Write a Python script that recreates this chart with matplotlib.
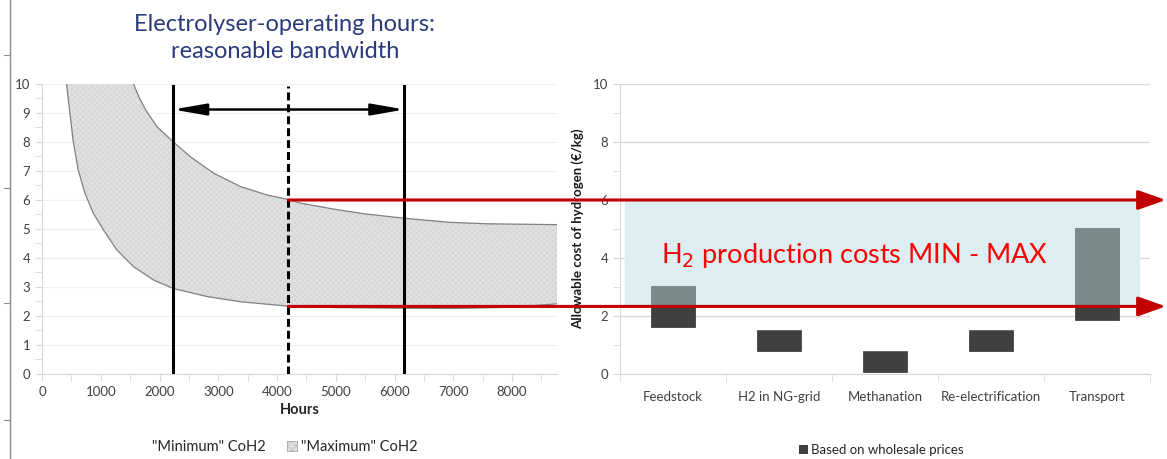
import numpy as np
import matplotlib
matplotlib.use('Agg')
import matplotlib.pyplot as plt
import matplotlib.transforms as mtransforms
from matplotlib.patches import Patch, ConnectionPatch
from matplotlib.lines import Line2D

# operating hours vs. cost of hydrogen (€/kg)
hours_min = [418, 475, 532, 617, 731, 874, 1045, 1273, 1558, 1900, 2230, 2811, 3381, 4190,
             5000, 6000, 7000, 8000, 8760]
cost_min = [10.0, 8.99, 8.01, 7.03, 6.23, 5.54, 4.97, 4.28, 3.70, 3.24, 2.95, 2.67, 2.49, 2.34,
            2.29, 2.27, 2.26, 2.30, 2.42]
hours_max = [1558, 1650, 1760, 1956, 2230, 2526, 2925, 3381, 3837, 4190, 4407, 4953, 5500, 6170,
             6945, 7574, 8760]
cost_max = [10.0, 9.55, 9.12, 8.53, 8.01, 7.49, 6.92, 6.46, 6.17, 6.02, 5.89, 5.69, 5.52, 5.37,
            5.23, 5.18, 5.15]

band_hours = [2230, 4190, 6170]   # low / reference / high operating hours
min_cost = 2.33
max_cost = 6.0

# allowable cost per application
categories = ['Feedstock', 'H2 in NG-grid', 'Methanation', 'Re-electrification', 'Transport']
wholesale_low = [1.62, 0.80, 0.07, 0.80, 1.86]
wholesale_high = [2.33, 1.52, 0.79, 1.52, 2.33]
upper_top = [3.05, 0.0, 0.0, 0.0, 5.03]

plt.rcParams['font.family'] = 'Lato'
plt.rcParams['hatch.linewidth'] = 0.3

fig = plt.figure(figsize=(11.67, 4.59), dpi=100)
ax1 = fig.add_axes([0.0360, 0.1852, 0.4410, 0.6318])
ax2 = fig.add_axes([0.5313, 0.1852, 0.4542, 0.6318])

grid_c = '#d9d9d9'
tick_c = '#404040'
fill_c = '#e0e0e0'

# ---- left: cost band over operating hours
poly_x = hours_min + hours_max[::-1]
poly_y = cost_min + cost_max[::-1]
ax1.fill(poly_x, poly_y, facecolor=fill_c, edgecolor='#cdcdcd', hatch='xxxxxx',
         linewidth=0, zorder=2)
ax1.plot(hours_min, cost_min, color='#808080', lw=0.9, zorder=3)
ax1.plot(hours_max, cost_max, color='#808080', lw=0.9, zorder=3)
ax1.plot([hours_min[-1], hours_max[-1]], [cost_min[-1], cost_max[-1]], color='#808080', lw=0.9, zorder=3)

for h in (band_hours[0], band_hours[2]):
    ax1.plot([h, h], [0, 9.93], color='black', lw=2.2, zorder=4)
ax1.plot([band_hours[1]] * 2, [0, 9.93], color='black', lw=2.2, linestyle=(0, (2.6, 1.3)), zorder=4)
ax1.annotate('', xy=(band_hours[0], 9.12), xytext=(band_hours[2], 9.12),
             arrowprops=dict(arrowstyle='<|-|>,head_length=2.0,head_width=0.35', mutation_scale=10,
                             lw=1.8, color='black', shrinkA=0, shrinkB=0), zorder=5)

ax1.set_xlim(0, 8760)
ax1.set_ylim(0, 10)
ax1.set_xticks(np.arange(0, 8001, 1000))
ax1.set_xticks(np.arange(500, 8760, 1000), minor=True)
ax1.set_yticks(np.arange(0, 11, 1))
ax1.set_yticks(np.arange(0.5, 10, 1), minor=True)
ax1.grid(axis='y', color='#f0f0f0', lw=0.8)
ax1.set_axisbelow(True)
ax1.set_xlabel('Hours', fontsize=10.5, fontweight='bold', color='#262626', labelpad=4)

# ---- right: allowable cost per application
x = np.arange(len(categories))
gray_h = [t - b if t > 0 else 0 for t, b in zip(upper_top, wholesale_high)]
dark_h = [h - l for h, l in zip(wholesale_high, wholesale_low)]
ax2.axhspan(min_cost, max_cost, xmin=0.01, xmax=0.98, color='#ddeef2', zorder=1)
ax2.bar(x, dark_h, bottom=wholesale_low, width=0.41, color='#404040', edgecolor='#333333',
        lw=0.5, zorder=3)
ax2.bar(x, gray_h, bottom=wholesale_high, width=0.41, color='#7b8a8b', edgecolor='#6b7879',
        lw=0.5, zorder=3)
ax2.text(-0.11, 3.82, 'H$_2$ production costs MIN - MAX', color='#ff0000', fontsize=19.5,
         va='baseline', ha='left', zorder=4)

ax2.set_xlim(-0.5, 4.5)
ax2.set_ylim(0, 10)
ax2.set_xticks(x)
ax2.set_xticklabels(categories)
ax2.set_xticks(np.arange(-0.5, 4.6, 1), minor=True)
ax2.tick_params(axis='x', which='major', length=0, pad=12)
ax2.tick_params(axis='x', which='minor', length=6, color=grid_c)
ax2.set_yticks(np.arange(0, 11, 2))
ax2.set_yticks(np.arange(1, 10, 2), minor=True)
ax2.grid(axis='y', color=grid_c, lw=1.0)
ax2.set_axisbelow(True)
ax2.set_ylabel('Allowable cost of hydrogen (€/kg)', fontsize=9.5, fontweight='bold',
               color='#1a1a1a', labelpad=6)

for ax in (ax1, ax2):
    for side in ('top', 'right'):
        ax.spines[side].set_visible(False)
    for side in ('left', 'bottom'):
        ax.spines[side].set_color(grid_c)
    ax.tick_params(which='both', colors=grid_c, labelcolor=tick_c, labelsize=9.5, length=5)
ax2.tick_params(axis='x', which='major', length=0)

# ---- min / max production cost arrows across both panels
tip = mtransforms.blended_transform_factory(fig.transFigure, ax1.transData)
for level in (max_cost, min_cost):
    arr = ConnectionPatch(xyA=(band_hours[1], level), coordsA=ax1.transData,
                          xyB=(0.999, level), coordsB=tip,
                          arrowstyle='-|>,head_length=1.7,head_width=0.6', mutation_scale=10,
                          color='#c00000', lw=2.2, shrinkA=0, shrinkB=0, zorder=10)
    fig.add_artist(arr)

fig.text(0.244, 0.917, 'Electrolyser-operating hours:\nreasonable bandwidth', ha='center', va='center',
         color='#2b3a7a', fontsize=17, linespacing=1.4)

fig.legend(handles=[Patch(facecolor='white', edgecolor='white', label='"Minimum" CoH2'),
                    Patch(facecolor=fill_c, edgecolor='#a6a6a6', hatch='xxxx', lw=0.6,
                          label='"Maximum" CoH2')],
           loc='center', bbox_to_anchor=(0.238, 0.026), ncol=2, frameon=False, fontsize=10.5,
           handlelength=0.7, handleheight=0.7, handletextpad=0.3, columnspacing=1.4,
           labelcolor='#262626')
fig.legend(handles=[Patch(facecolor='#404040', label='Based on wholesale prices')],
           loc='center', bbox_to_anchor=(0.755, 0.019), frameon=False, fontsize=9.5,
           handlelength=0.7, handleheight=0.7, handletextpad=0.2, labelcolor='#262626')

# thin scale line at the far left
fig.add_artist(Line2D([0.0085, 0.0085], [0, 1], color='#8c8c8c', lw=1.0))
for yf in (0.880, 0.590, 0.340, 0.085):
    fig.add_artist(Line2D([0.003, 0.0085], [yf, yf], color='#8c8c8c', lw=0.8))

fig.savefig('out.png', dpi=100)
